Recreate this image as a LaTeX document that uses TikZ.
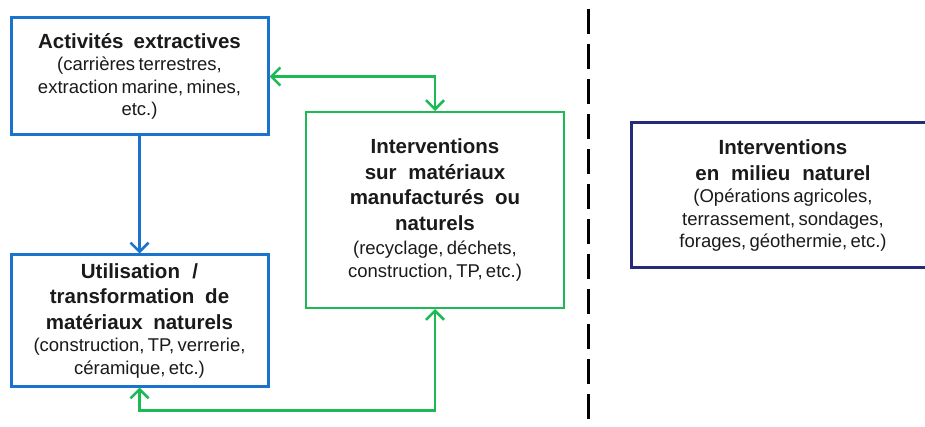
\documentclass[tikz,border=0pt]{standalone}
\usepackage{fontspec}
\setmainfont{Liberation Sans}
\usetikzlibrary{arrows.meta}
\definecolor{cblue}{HTML}{1A73CC}
\definecolor{cgreen}{HTML}{1DB954}
\definecolor{cnavy}{HTML}{262A78}
\definecolor{ctext}{HTML}{1A1A1A}
\newcommand\ttltxt{\fontsize{20.5}{25.5}\selectfont\bfseries\spaceskip=9pt plus 1pt minus 1pt\relax}
\newcommand\subtxt{\fontsize{18.5}{22.5}\selectfont}
\tikzset{
  box/.style={draw, fill=white, align=center, inner sep=0pt, text=ctext},
  bluebox/.style={box, draw=cblue, line width=3pt},
  greenbox/.style={box, draw=cgreen, line width=2pt},
  navybox/.style={box, draw=cnavy, line width=3pt},
  barb/.tip={Straight Barb[length=9pt,width=18pt,line width=2.5pt]},
  bluearrow/.style={draw=cblue, line width=2.5pt, -barb},
  greenarrow/.style={draw=cgreen, line width=2.5pt, barb-barb},
  divider/.style={draw=black, line width=3pt, dash pattern=on 25pt off 10pt}
}
\begin{document}
\begin{tikzpicture}[x=1pt,y=-1pt]
\useasboundingbox (0,0) rectangle (925,427);
\node[bluebox, minimum width=257pt, minimum height=117pt, text width=250pt] (A) at (139.5,76.5)
  {{\ttltxt Activités extractives\par}{\subtxt (carrières terrestres,\\extraction marine, mines,\\etc.)\par}};
\node[bluebox, minimum width=257pt, minimum height=131pt, text width=250pt] (U) at (139.5,320.5)
  {{\ttltxt Utilisation /\\transformation de\\matériaux naturels\par}{\subtxt (construction, TP, verrerie,\\céramique, etc.)\par}};
\node[greenbox, minimum width=258pt, minimum height=196pt, text width=250pt] (I) at (435,210)
  {{\ttltxt Interventions\\sur matériaux\\manufacturés ou\\naturels\par}{\subtxt\vspace{2pt}(recyclage, déchets,\\construction, TP, etc.)\par}};
\node[navybox, minimum width=304pt, minimum height=145pt, text width=290pt] (N) at (783,195.5)
  {{\ttltxt Interventions\\en milieu naturel\par}{\subtxt (Opérations agricoles,\\terrassement, sondages,\\forages, géothermie, etc.)\par}};
\draw[bluearrow] (A.south) -- (U.north);
\draw[greenarrow] (A.east) -| (I.north);
\draw[greenarrow] (U.south) -- ++(0,23) coordinate (bl) -| (I.south);
\coordinate (dtop) at (588,9);
\coordinate (dbot) at (588,421);
\draw[divider] (dtop) -- (dbot);
\end{tikzpicture}
\end{document}
